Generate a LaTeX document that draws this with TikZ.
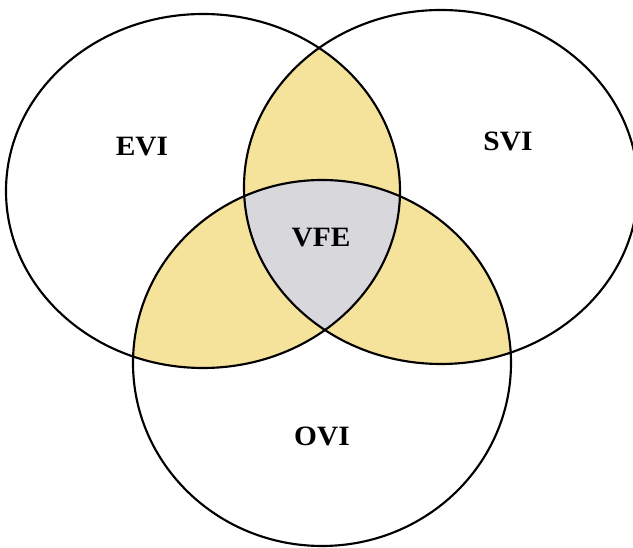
\documentclass[tikz,border=0pt]{standalone}
\usepackage{fontspec}
\setmainfont{Liberation Serif}
\definecolor{pairfill}{RGB}{245,226,155}
\definecolor{triplefill}{RGB}{216,216,220}
\begin{document}
\begin{tikzpicture}[x=0.75pt,y=-0.75pt,
  outline/.style={draw=black,line width=1.6pt},
  setlabel/.style={font=\bfseries\fontsize{21}{25}\selectfont,inner sep=0pt,xscale=1.05}]
\useasboundingbox (0,0) rectangle (633,548);
\fill[white] (0,0) rectangle (633,548);
\def\shapeL{(203,191) ellipse [x radius=197,y radius=177]}
\def\shapeR{(441,187) ellipse [x radius=197,y radius=177]}
\def\shapeB{(322,363) ellipse [x radius=189,y radius=183]}
% pairwise intersections
\begin{scope}\clip \shapeL; \fill[pairfill] \shapeR; \end{scope}
\begin{scope}\clip \shapeL; \fill[pairfill] \shapeB; \end{scope}
\begin{scope}\clip \shapeR; \fill[pairfill] \shapeB; \end{scope}
% triple intersection
\begin{scope}\clip \shapeL; \clip \shapeR; \fill[triplefill] \shapeB; \end{scope}
% outlines
\draw[outline] \shapeL;
\draw[outline] \shapeR;
\draw[outline] \shapeB;
% labels
\node[setlabel] (evi) at (142,147) {EVI};
\node[setlabel] (svi) at (508,141) {SVI};
\node[setlabel] (vfe) at (321,238) {VFE};
\node[setlabel] (ovi) at (322,436) {OVI};
\end{tikzpicture}
\end{document}
